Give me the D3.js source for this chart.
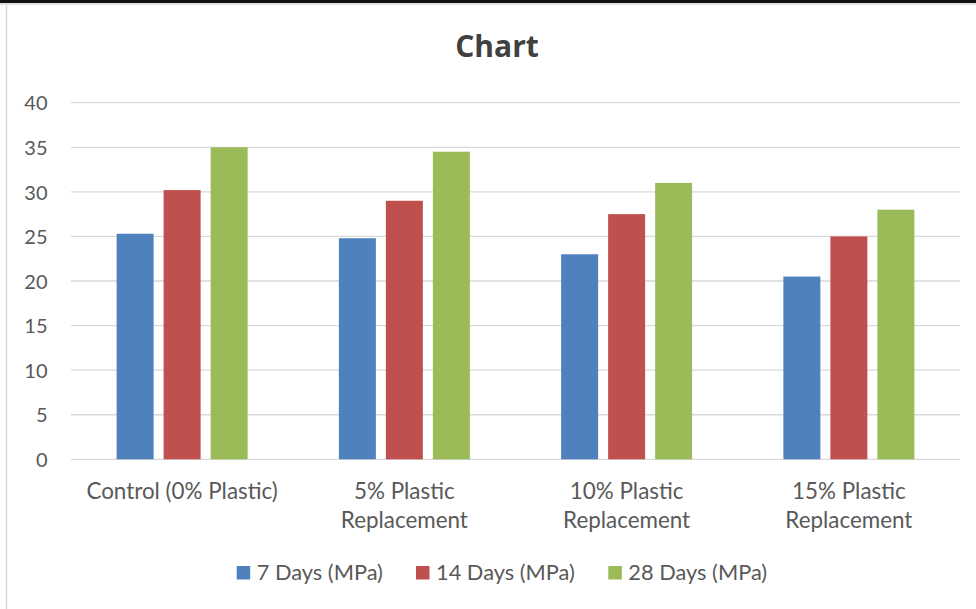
<!DOCTYPE html>
<html>
<head>
<meta charset="utf-8">
<script src="https://cdn.jsdelivr.net/npm/d3@7"></script>
<style>
  html, body { margin: 0; padding: 0; background: #fff; }
  svg { display: block; font-family: Lato, "Open Sans", sans-serif; }
</style>
</head>
<body>
<svg id="chart" width="976" height="609"></svg>
<script>
// Compressive strength by plastic replacement level and curing age
const categories = [
  ["Control (0% Plastic)"],
  ["5% Plastic", "Replacement"],
  ["10% Plastic", "Replacement"],
  ["15% Plastic", "Replacement"]
];
const seriesNames = ["7 Days (MPa)", "14 Days (MPa)", "28 Days (MPa)"];
const days7  = [25.3, 24.8, 23.0, 20.5];
const days14 = [30.2, 29.0, 27.5, 25.0];
const days28 = [35.0, 34.5, 31.0, 28.0];
const yTicks = [0, 5, 10, 15, 20, 25, 30, 35, 40];
const colors = ["#4f81bd", "#c0504d", "#9bbb59"];

const series = [days7, days14, days28];
const svg = d3.select("#chart");
const W = 976, H = 609;

// Frame edges
svg.append("rect").attr("x", 0).attr("y", 0).attr("width", W).attr("height", 3).attr("fill", "#111");
svg.append("line").attr("x1", 0).attr("x2", W).attr("y1", 4).attr("y2", 4).attr("stroke", "#d9d9d9").attr("stroke-width", 1.5);
svg.append("line").attr("x1", 6.5).attr("x2", 6.5).attr("y1", 4).attr("y2", H).attr("stroke", "#d9d9d9").attr("stroke-width", 1.5);

const plot = { left: 71, right: 960, top: 102.7, bottom: 459.3 };
const groupWidth = 131;

const x0 = d3.scaleBand()
  .domain(d3.range(categories.length))
  .range([plot.left, plot.right])
  .paddingInner(0).paddingOuter(0);

const x1 = d3.scaleBand()
  .domain(d3.range(series.length))
  .range([0, groupWidth])
  .paddingInner(0.213);

const y = d3.scaleLinear().domain([0, 40]).range([plot.bottom, plot.top]);

// Title
svg.append("text")
  .attr("x", 497).attr("y", 57)
  .attr("text-anchor", "middle")
  .attr("font-family", "'Open Sans', Lato, sans-serif")
  .attr("font-size", 30).attr("font-weight", "bold")
  .attr("fill", "#404040")
  .text("Chart");

// Gridlines
svg.append("g")
  .selectAll("line")
  .data(yTicks)
  .join("line")
  .attr("x1", plot.left).attr("x2", plot.right)
  .attr("y1", d => y(d)).attr("y2", d => y(d))
  .attr("stroke", "#d9d9d9").attr("stroke-width", 1.3);

// Y axis labels
const yAxis = d3.axisLeft(y).tickValues(yTicks).tickSize(0).tickPadding(0);
const gy = svg.append("g").attr("transform", `translate(47.5,0)`).call(yAxis);
gy.select(".domain").remove();
gy.selectAll("text")
  .attr("font-family", "Lato, 'Open Sans', sans-serif")
  .attr("font-size", 20).attr("fill", "#595959").attr("dy", "0.36em");

// Bars
const groups = svg.append("g")
  .selectAll("g")
  .data(categories.map((c, i) => i))
  .join("g")
  .attr("transform", i => `translate(${x0(i) + x0.bandwidth() / 2 - groupWidth / 2},0)`);

groups.selectAll("rect")
  .data(i => series.map((s, k) => ({ k, v: s[i] })))
  .join("rect")
  .attr("x", d => x1(d.k))
  .attr("width", x1.bandwidth())
  .attr("y", d => y(d.v))
  .attr("height", d => y(0) - y(d.v))
  .attr("fill", d => colors[d.k]);

// Category labels
const xl = svg.append("g");
categories.forEach((lines, i) => {
  const cx = x0(i) + x0.bandwidth() / 2;
  const t = xl.append("text")
    .attr("x", cx)
    .attr("y", 499)
    .attr("text-anchor", "middle")
    .attr("font-size", 22.4).attr("fill", "#595959");
  lines.forEach((ln, j) => {
    t.append("tspan").attr("x", cx).attr("dy", j === 0 ? 0 : 29).text(ln);
  });
});

// Legend
const legendX = [236.7, 416, 608.3];
const lg = svg.append("g");
seriesNames.forEach((name, k) => {
  lg.append("rect").attr("x", legendX[k]).attr("y", 566).attr("width", 13.5).attr("height", 13.5).attr("fill", colors[k]);
  lg.append("text").attr("x", legendX[k] + 20).attr("y", 579.5)
    .attr("font-size", 21.8).attr("fill", "#595959").text(name);
});
</script>
</body>
</html>
